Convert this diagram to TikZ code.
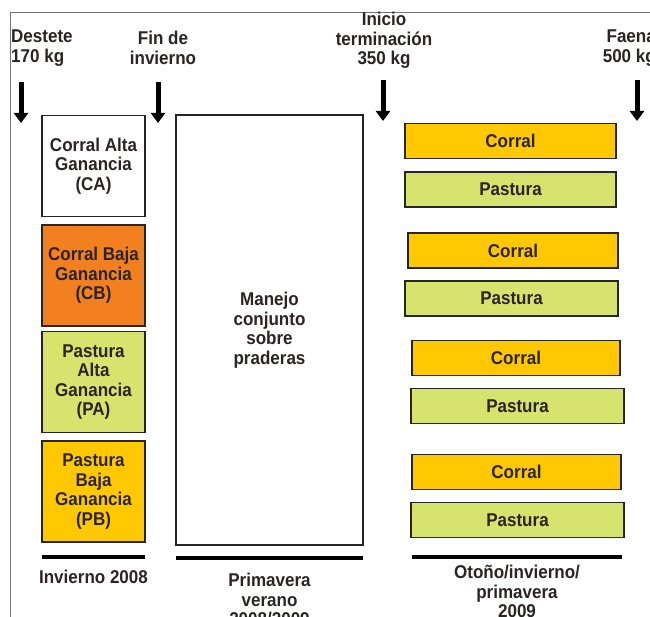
\documentclass[tikz,border=0pt]{standalone}
\usepackage{fontspec}
\setmainfont{Liberation Sans}[FakeStretch=0.92]
\usetikzlibrary{arrows.meta}
\definecolor{cborange}{HTML}{F2801F}
\definecolor{gold}{HTML}{FFC800}
\definecolor{pgreen}{HTML}{D6E36C}
\definecolor{txt}{HTML}{2B2424}
\tikzset{
  every node/.style={font=\bfseries\fontsize{18.5}{19.5}\selectfont, text=txt},
  lbox/.style={draw=black!85, line width=1.6pt, minimum width=103pt, minimum height=101pt, inner sep=0pt, align=center},
  rbox/.style={draw=black!85, line width=1.6pt, minimum height=35pt, inner sep=0pt, align=center},
  bar/.style={line width=4pt, black},
  downarrow/.style={line width=5pt, -{Triangle[width=14pt,length=10pt]}},
  lab/.style={align=center, inner sep=0pt}
}
\begin{document}
\begin{tikzpicture}[x=1pt,y=-1pt]
\useasboundingbox (0,0) rectangle (650,617);
\fill[white] (0,0) rectangle (650,617);
\draw[black!55, line width=1pt] (10,13) rectangle (680,660);
% top labels
\node[lab, anchor=north west, align=left] (destete) at (11,30) {Destete\\170 kg};
\node[lab, anchor=north] (fin) at (163,31) {Fin de\\invierno};
\node[lab, anchor=north] (inicio) at (384,12) {Inicio\\terminación\\350 kg};
\node[lab, anchor=north east, align=right] (faena) at (656,30) {Faena\\500 kg};
% arrows
\coordinate (a1s) at (21,82); \coordinate (a1e) at (21,123);
\coordinate (a2s) at (158,82); \coordinate (a2e) at (158,123);
\coordinate (a3s) at (383,80); \coordinate (a3e) at (383,121);
\coordinate (a4s) at (637,80); \coordinate (a4e) at (637,121);
\draw[downarrow] (a1s) -- (a1e);
\draw[downarrow] (a2s) -- (a2e);
\draw[downarrow] (a3s) -- (a3e);
\draw[downarrow] (a4s) -- (a4e);
% left column
\node[lbox, fill=white] (ca) at (93.5,166) {Corral Alta\\Ganancia\\(CA)};
\node[lbox, fill=cborange] (cb) at (93.5,275.5) {Corral Baja\\Ganancia\\(CB)};
\node[lbox, fill=pgreen] (pa) at (93.5,382) {Pastura\\Alta\\Ganancia\\(PA)};
\node[lbox, fill=gold] (pb) at (93.5,491.5) {Pastura\\Baja\\Ganancia\\(PB)};
% middle
\node[lbox, fill=white, minimum width=187pt, minimum height=430pt] (mid) at (269.5,330) {Manejo\\conjunto\\sobre\\praderas};
% right column
\node[rbox, fill=gold, minimum width=211pt] (c1) at (510.5,141) {Corral};
\node[rbox, fill=pgreen, minimum width=211pt] (p1) at (510.5,189.5) {Pastura};
\node[rbox, fill=gold, minimum width=210pt] (c2) at (513,250.5) {Corral};
\node[rbox, fill=pgreen, minimum width=213pt] (p2) at (511.5,298.5) {Pastura};
\node[rbox, fill=gold, minimum width=208pt] (c3) at (516,358) {Corral};
\node[rbox, fill=pgreen, minimum width=213pt] (p3) at (517.5,406) {Pastura};
\node[rbox, fill=gold, minimum width=209pt] (c4) at (516.5,472) {Corral};
\node[rbox, fill=pgreen, minimum width=213pt] (p4) at (517.5,520) {Pastura};
% bars
\coordinate (b1s) at (42,557); \coordinate (b1e) at (145,557);
\coordinate (b2s) at (176,558); \coordinate (b2e) at (363,558);
\coordinate (b3s) at (412,557); \coordinate (b3e) at (622,557);
\draw[bar] (b1s) -- (b1e);
\draw[bar] (b2s) -- (b2e);
\draw[bar] (b3s) -- (b3e);
% season labels
\node[lab, anchor=north] (s1) at (93.5,570) {Invierno 2008};
\node[lab, anchor=north] (s2) at (269.5,573) {Primavera\\verano\\2008/2009};
\node[lab, anchor=north] (s3) at (517,565) {Otoño/invierno/\\primavera\\2009};
\end{tikzpicture}
\end{document}
